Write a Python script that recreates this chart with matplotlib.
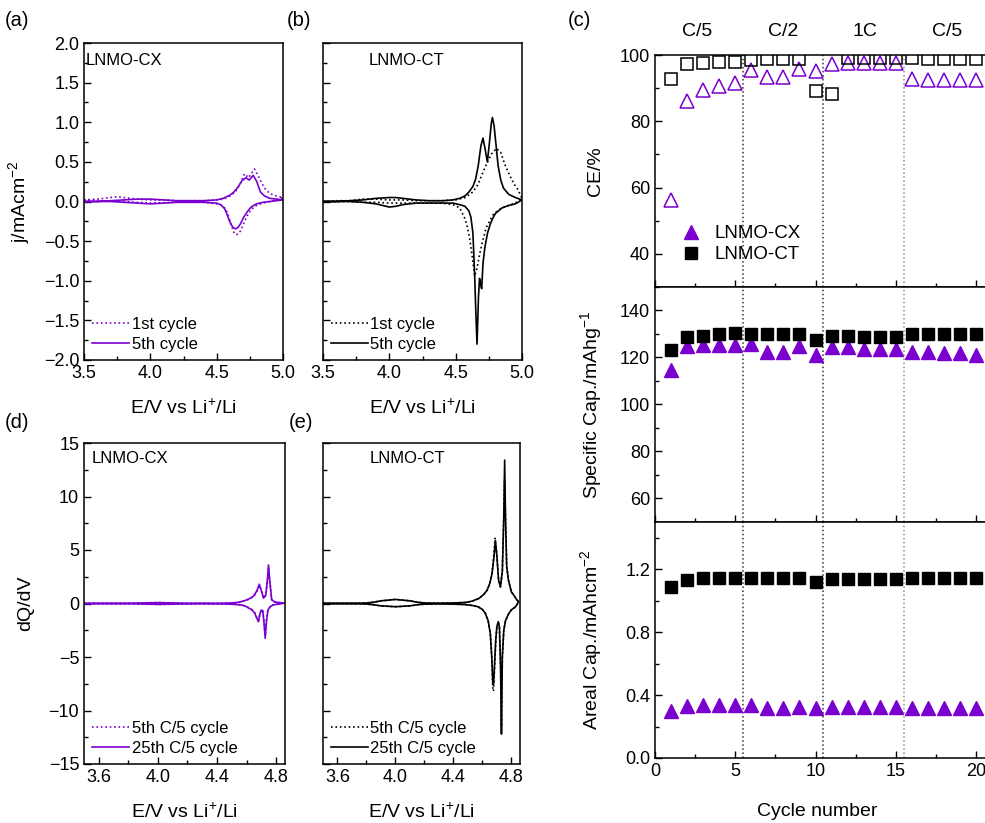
import matplotlib
matplotlib.use('Agg')
import matplotlib.pyplot as plt
from matplotlib.lines import Line2D
from matplotlib.ticker import MultipleLocator

plt.rcParams['font.family'] = ['Liberation Sans', 'DejaVu Sans']
plt.rcParams['mathtext.default'] = 'regular'

PURPLE = '#7a00d0'

# ---- CV data, panel (a) LNMO-CX ----
a5_up_E = [3.50, 3.60, 3.70, 3.80, 3.90, 4.00, 4.10, 4.20, 4.30, 4.40, 4.50, 4.55, 4.60, 4.63, 4.66,
           4.69, 4.72, 4.745, 4.775, 4.80, 4.83, 4.86, 4.90, 4.95, 5.00]
a5_up_j = [0.00, 0.00, 0.01, 0.02, 0.03, 0.03, 0.02, 0.01, 0.01, 0.01, 0.02, 0.04, 0.08, 0.12, 0.18,
           0.26, 0.30, 0.27, 0.33, 0.26, 0.12, 0.07, 0.04, 0.03, 0.02]
a5_dn_E = [5.00, 4.95, 4.90, 4.85, 4.80, 4.76, 4.73, 4.70, 4.68, 4.66, 4.64, 4.62, 4.60, 4.58, 4.56,
           4.53, 4.50, 4.40, 4.30, 4.20, 4.10, 4.00, 3.90, 3.80, 3.70, 3.60, 3.50]
a5_dn_j = [0.02, 0.01, 0.00, -0.01, -0.03, -0.07, -0.13, -0.21, -0.28, -0.33, -0.345, -0.32, -0.26, -0.17,
           -0.09, -0.04, -0.02, -0.01, -0.01, -0.01, -0.02, -0.03, -0.02, -0.01, 0.00, 0.00, 0.00]
a1_up_E = [3.50, 3.60, 3.70, 3.75, 3.80, 3.90, 4.00, 4.10, 4.20, 4.30, 4.40, 4.50, 4.55, 4.60, 4.64,
           4.67, 4.71, 4.74, 4.785, 4.82, 4.86, 4.90, 4.95, 5.00]
a1_up_j = [0.02, 0.03, 0.05, 0.06, 0.05, 0.03, 0.02, 0.02, 0.01, 0.01, 0.01, 0.02, 0.03, 0.07, 0.12,
           0.20, 0.35, 0.30, 0.41, 0.30, 0.17, 0.10, 0.07, 0.05]
a1_dn_E = [5.00, 4.95, 4.90, 4.85, 4.80, 4.76, 4.73, 4.70, 4.68, 4.66, 4.645, 4.63, 4.61, 4.59, 4.57,
           4.54, 4.50, 4.40, 4.20, 4.00, 3.80, 3.60, 3.50]
a1_dn_j = [0.05, 0.02, 0.00, -0.02, -0.05, -0.10, -0.18, -0.29, -0.37, -0.41, -0.42, -0.39, -0.30, -0.19,
           -0.10, -0.05, -0.03, -0.01, -0.01, -0.02, 0.00, 0.01, 0.02]

# ---- CV data, panel (b) LNMO-CT ----
b5_up_E = [3.50, 3.60, 3.70, 3.80, 3.90, 4.00, 4.05, 4.10, 4.20, 4.30, 4.40, 4.48, 4.53, 4.57, 4.60,
           4.63, 4.65, 4.67, 4.69, 4.706, 4.72, 4.739, 4.755, 4.768, 4.777, 4.79, 4.805, 4.82, 4.84,
           4.86, 4.90, 4.95, 5.00]
b5_up_j = [0.00, 0.00, 0.01, 0.02, 0.04, 0.05, 0.05, 0.04, 0.02, 0.01, 0.01, 0.02, 0.04, 0.07, 0.12,
           0.19, 0.28, 0.45, 0.70, 0.80, 0.68, 0.50, 0.75, 0.98, 1.06, 0.95, 0.70, 0.45, 0.27,
           0.17, 0.09, 0.05, 0.02]
b5_dn_E = [5.00, 4.95, 4.90, 4.85, 4.80, 4.78, 4.76, 4.74, 4.72, 4.706, 4.696, 4.688, 4.68, 4.672,
           4.661, 4.652, 4.643, 4.63, 4.615, 4.60, 4.57, 4.53, 4.48, 4.40, 4.30, 4.20, 4.10, 4.05,
           4.00, 3.95, 3.90, 3.80, 3.70, 3.60, 3.50]
b5_dn_j = [0.02, -0.03, -0.05, -0.08, -0.15, -0.21, -0.29, -0.40, -0.58, -0.78, -1.10, -1.05, -0.97,
           -1.20, -1.80, -1.40, -0.92, -0.40, -0.20, -0.12, -0.06, -0.04, -0.02, -0.02, -0.02, -0.02,
           -0.04, -0.06, -0.07, -0.05, -0.03, -0.01, 0.00, 0.00, 0.00]
b1_up_E = [3.50, 3.60, 3.70, 3.80, 3.85, 3.90, 4.00, 4.10, 4.20, 4.30, 4.40, 4.50, 4.57, 4.63, 4.67,
           4.706, 4.74, 4.77, 4.807, 4.84, 4.87, 4.907, 4.94, 4.97, 5.00]
b1_up_j = [0.00, 0.01, 0.01, 0.03, 0.03, 0.03, 0.02, 0.02, 0.01, 0.01, 0.01, 0.02, 0.05, 0.12, 0.22,
           0.37, 0.50, 0.60, 0.67, 0.62, 0.47, 0.33, 0.22, 0.15, 0.04]
b1_dn_E = [5.00, 4.95, 4.88, 4.82, 4.78, 4.73, 4.70, 4.68, 4.66, 4.643, 4.625, 4.605, 4.585, 4.568,
           4.53, 4.48, 4.40, 4.30, 4.20, 4.10, 4.00, 3.90, 3.80, 3.70, 3.60, 3.50]
b1_dn_j = [0.04, -0.02, -0.06, -0.11, -0.17, -0.33, -0.52, -0.67, -0.85, -0.94, -0.70, -0.46, -0.30,
           -0.21, -0.08, -0.04, -0.02, -0.02, -0.02, -0.02, -0.02, -0.01, -0.01, 0.00, 0.00, 0.00]

# ---- dQ/dV data, panel (d) LNMO-CX ----
d25_up_E = [3.50, 3.60, 3.70, 3.80, 3.90, 4.00, 4.10, 4.20, 4.30, 4.40, 4.50, 4.55, 4.59, 4.62, 4.648,
            4.67, 4.686, 4.70, 4.715, 4.73, 4.742, 4.748, 4.755, 4.77, 4.79, 4.82, 4.86]
d25_up_q = [0.00, 0.00, 0.00, 0.02, 0.05, 0.08, 0.05, 0.02, 0.01, 0.01, 0.05, 0.12, 0.28, 0.45, 0.70,
            1.20, 1.80, 1.20, 0.50, 0.80, 2.40, 3.60, 2.40, 0.35, 0.15, 0.08, 0.05]
d25_dn_E = [4.86, 4.82, 4.79, 4.77, 4.76, 4.745, 4.735, 4.726, 4.718, 4.71, 4.70, 4.69, 4.68, 4.67,
            4.655, 4.636, 4.60, 4.57, 4.52, 4.40, 4.30, 4.20, 4.10, 4.00, 3.90, 3.80, 3.70, 3.60, 3.50]
d25_dn_q = [0.05, -0.05, -0.10, -0.20, -0.30, -0.60, -1.60, -3.25, -1.80, -0.70, -0.60, -1.00, -1.70,
            -1.40, -0.90, -0.60, -0.30, -0.15, -0.08, -0.02, -0.01, -0.03, -0.06, -0.08, -0.05, -0.02,
            0.00, 0.00, 0.00]
d5_up_E = [3.50, 3.60, 3.70, 3.80, 3.90, 4.00, 4.10, 4.20, 4.30, 4.40, 4.50, 4.55, 4.59, 4.62, 4.648,
           4.67, 4.688, 4.70, 4.716, 4.73, 4.743, 4.749, 4.756, 4.77, 4.79, 4.82, 4.86]
d5_up_q = [0.00, 0.00, 0.01, 0.03, 0.06, 0.09, 0.06, 0.02, 0.01, 0.01, 0.05, 0.11, 0.26, 0.42, 0.66,
           1.10, 1.70, 1.15, 0.50, 0.75, 2.20, 3.40, 2.20, 0.35, 0.15, 0.08, 0.05]
d5_dn_E = [4.86, 4.82, 4.79, 4.77, 4.76, 4.745, 4.735, 4.727, 4.718, 4.71, 4.70, 4.69, 4.681, 4.67,
           4.655, 4.636, 4.60, 4.57, 4.52, 4.40, 4.30, 4.20, 4.10, 4.00, 3.90, 3.80, 3.70, 3.60, 3.50]
d5_dn_q = [0.05, -0.05, -0.10, -0.20, -0.30, -0.55, -1.50, -3.00, -1.70, -0.70, -0.60, -0.95, -1.60,
           -1.35, -0.85, -0.55, -0.30, -0.15, -0.08, -0.02, -0.01, -0.04, -0.07, -0.09, -0.06, -0.02,
           0.00, 0.00, 0.00]

# ---- dQ/dV data, panel (e) LNMO-CT ----
e25_up_E = [3.50, 3.60, 3.70, 3.80, 3.85, 3.90, 4.00, 4.10, 4.15, 4.20, 4.30, 4.40, 4.485, 4.53, 4.576,
            4.61, 4.633, 4.652, 4.667, 4.68, 4.69, 4.70, 4.712, 4.725, 4.738, 4.748, 4.754, 4.76, 4.768,
            4.78, 4.80, 4.816, 4.835, 4.85]
e25_up_q = [0.00, 0.00, 0.00, 0.05, 0.12, 0.25, 0.38, 0.25, 0.12, 0.05, 0.03, 0.05, 0.10, 0.22, 0.47,
            0.85, 1.25, 1.90, 2.80, 4.30, 5.90, 4.50, 2.20, 1.55, 3.00, 8.00, 13.40, 8.00, 3.50,
            2.20, 1.10, 0.80, 0.40, 0.15]
e25_dn_E = [4.85, 4.83, 4.80, 4.78, 4.76, 4.748, 4.738, 4.732, 4.726, 4.718, 4.71, 4.70, 4.692, 4.685,
            4.678, 4.673, 4.665, 4.655, 4.64, 4.62, 4.60, 4.57, 4.53, 4.48, 4.40, 4.30, 4.20, 4.15,
            4.10, 4.00, 3.90, 3.85, 3.80, 3.70, 3.60, 3.50]
e25_dn_q = [0.15, -0.30, -0.60, -1.00, -1.60, -2.50, -5.00, -12.20, -6.00, -2.20, -1.70, -2.20, -3.50,
            -5.50, -7.50, -7.60, -5.00, -2.80, -1.60, -0.90, -0.55, -0.30, -0.18, -0.10, -0.06, -0.04,
            -0.06, -0.12, -0.22, -0.30, -0.22, -0.12, -0.05, 0.00, 0.00, 0.00]
e5_up_E = [3.50, 3.60, 3.70, 3.80, 3.85, 3.90, 4.00, 4.10, 4.15, 4.20, 4.30, 4.40, 4.485, 4.53, 4.576,
           4.61, 4.633, 4.652, 4.667, 4.679, 4.688, 4.70, 4.712, 4.725, 4.738, 4.748, 4.753, 4.76, 4.768,
           4.78, 4.80, 4.816, 4.835, 4.85]
e5_up_q = [0.00, 0.00, 0.00, 0.05, 0.12, 0.25, 0.38, 0.25, 0.12, 0.05, 0.03, 0.05, 0.10, 0.22, 0.47,
           0.85, 1.25, 1.90, 2.90, 4.50, 6.10, 4.60, 2.20, 1.55, 3.10, 8.20, 11.50, 8.00, 3.50,
           2.20, 1.10, 0.80, 0.40, 0.15]
e5_dn_E = [4.85, 4.83, 4.80, 4.78, 4.76, 4.748, 4.738, 4.732, 4.726, 4.718, 4.71, 4.70, 4.692, 4.685,
           4.677, 4.672, 4.665, 4.655, 4.64, 4.62, 4.60, 4.57, 4.53, 4.48, 4.40, 4.30, 4.20, 4.15,
           4.10, 4.00, 3.90, 3.85, 3.80, 3.70, 3.60, 3.50]
e5_dn_q = [0.15, -0.30, -0.60, -1.00, -1.60, -2.50, -5.00, -11.50, -6.00, -2.20, -1.70, -2.30, -3.80,
           -6.00, -8.20, -7.90, -5.00, -2.80, -1.60, -0.90, -0.55, -0.30, -0.18, -0.10, -0.06, -0.04,
           -0.06, -0.12, -0.22, -0.30, -0.22, -0.12, -0.05, 0.00, 0.00, 0.00]

# ---- rate capability, panel (c) ----
cycles = list(range(1, 21))
ce_cx = [56.3, 86.2, 89.4, 90.6, 91.7, 95.5, 93.4, 93.4, 95.7, 95.3,
         97.3, 97.5, 97.5, 97.5, 97.5, 92.8, 92.6, 92.6, 92.6, 92.6]
ce_ct = [92.9, 97.2, 97.5, 97.8, 98.0, 98.5, 98.8, 98.8, 98.8, 89.2,
         88.2, 99.0, 99.0, 99.0, 99.0, 99.0, 98.7, 98.7, 98.7, 98.7]
spec_cx = [114.7, 124.8, 125.5, 125.5, 125.5, 125.8, 122.5, 122.5, 125.1, 121.2,
           124.4, 124.4, 123.7, 123.7, 123.7, 122.2, 122.2, 121.8, 121.8, 121.2]
spec_ct = [123.4, 128.9, 129.3, 129.8, 130.3, 129.8, 129.8, 129.8, 129.8, 127.5,
           129.3, 129.1, 128.9, 128.9, 128.9, 129.8, 129.8, 129.8, 129.8, 129.8]
areal_cx = [0.30, 0.33, 0.335, 0.335, 0.335, 0.335, 0.32, 0.32, 0.325, 0.315,
            0.325, 0.325, 0.325, 0.325, 0.325, 0.32, 0.32, 0.32, 0.32, 0.32]
areal_ct = [1.084, 1.13, 1.141, 1.141, 1.141, 1.141, 1.141, 1.141, 1.141, 1.12,
            1.137, 1.137, 1.137, 1.137, 1.137, 1.143, 1.143, 1.143, 1.143, 1.143]
rate_labels = ['C/5', 'C/2', '1C', 'C/5']
rate_label_x = [2.6, 8.0, 13.1, 18.2]
rate_breaks = [5.5, 10.45, 15.5]

W, H = 985, 823
TICK_FS = 13
LABEL_FS = 14
LEG_FS = 12

fig = plt.figure(figsize=(W / 100, H / 100), dpi=100)


def box(l, t, r, b):
    return [l / W, 1 - b / H, (r - l) / W, (b - t) / H]


def style(ax):
    ax.tick_params(which='both', direction='in', top=False, right=False, labelsize=TICK_FS, width=1)
    ax.tick_params(which='major', length=5)
    ax.tick_params(which='minor', length=3)
    for s in ax.spines.values():
        s.set_linewidth(1.1)


def loop(ax, upE, upY, dnE, dnY, color, ls, label):
    ax.plot(upE + dnE, upY + dnY, color=color, ls=ls, lw=1.2, label=label)


def small_legend(ax):
    ax.legend(loc='lower left', frameon=False, fontsize=LEG_FS, handlelength=2.2, handletextpad=0.15,
              labelspacing=0.3, borderaxespad=0.2, borderpad=0.3)


XLAB = 'E/V vs Li$^{+}$/Li'

# (a)
ax_a = fig.add_axes(box(84, 43, 283, 360))
loop(ax_a, a1_up_E, a1_up_j, a1_dn_E, a1_dn_j, PURPLE, ':', '1st cycle')
loop(ax_a, a5_up_E, a5_up_j, a5_dn_E, a5_dn_j, PURPLE, '-', '5th cycle')
ax_a.set_xlim(3.5, 5.0)
ax_a.set_ylim(-2.0, 2.0)
ax_a.xaxis.set_major_locator(MultipleLocator(0.5))
ax_a.xaxis.set_minor_locator(MultipleLocator(0.25))
ax_a.yaxis.set_major_locator(MultipleLocator(0.5))
ax_a.yaxis.set_minor_locator(MultipleLocator(0.25))
ax_a.set_ylabel('j/mAcm$^{-2}$', fontsize=LABEL_FS)
ax_a.yaxis.set_label_coords(-0.26, 0.5)
ax_a.set_xlabel(XLAB, fontsize=LABEL_FS)
ax_a.xaxis.set_label_coords(0.5, -0.12)
ax_a.text(0.01, 0.97, 'LNMO-CX', transform=ax_a.transAxes, fontsize=LEG_FS, va='top')
small_legend(ax_a)
style(ax_a)

# (b)
ax_b = fig.add_axes(box(323, 43, 522, 360))
loop(ax_b, b1_up_E, b1_up_j, b1_dn_E, b1_dn_j, 'k', ':', '1st cycle')
loop(ax_b, b5_up_E, b5_up_j, b5_dn_E, b5_dn_j, 'k', '-', '5th cycle')
ax_b.set_xlim(3.5, 5.0)
ax_b.set_ylim(-2.0, 2.0)
ax_b.xaxis.set_major_locator(MultipleLocator(0.5))
ax_b.xaxis.set_minor_locator(MultipleLocator(0.25))
ax_b.yaxis.set_major_locator(MultipleLocator(0.5))
ax_b.yaxis.set_minor_locator(MultipleLocator(0.25))
ax_b.tick_params(labelleft=False)
ax_b.set_xlabel(XLAB, fontsize=LABEL_FS)
ax_b.xaxis.set_label_coords(0.5, -0.12)
ax_b.text(0.42, 0.97, 'LNMO-CT', transform=ax_b.transAxes, fontsize=LEG_FS, va='top', ha='center')
small_legend(ax_b)
style(ax_b)

# (d)
ax_d = fig.add_axes(box(84, 443, 285, 764))
loop(ax_d, d5_up_E, d5_up_q, d5_dn_E, d5_dn_q, PURPLE, ':', '5th C/5 cycle')
loop(ax_d, d25_up_E, d25_up_q, d25_dn_E, d25_dn_q, PURPLE, '-', '25th C/5 cycle')
ax_d.set_xlim(3.5, 4.86)
ax_d.set_ylim(-15, 15)
ax_d.set_xticks([3.6, 4.0, 4.4, 4.8])
ax_d.xaxis.set_minor_locator(MultipleLocator(0.2))
ax_d.yaxis.set_major_locator(MultipleLocator(5))
ax_d.yaxis.set_minor_locator(MultipleLocator(2.5))
ax_d.set_ylabel('dQ/dV', fontsize=LABEL_FS)
ax_d.yaxis.set_label_coords(-0.25, 0.5)
ax_d.set_xlabel(XLAB, fontsize=LABEL_FS)
ax_d.xaxis.set_label_coords(0.5, -0.12)
ax_d.text(0.04, 0.975, 'LNMO-CX', transform=ax_d.transAxes, fontsize=LEG_FS, va='top')
small_legend(ax_d)
style(ax_d)

# (e)
ax_e = fig.add_axes(box(323, 443, 520, 764))
loop(ax_e, e5_up_E, e5_up_q, e5_dn_E, e5_dn_q, 'k', ':', '5th C/5 cycle')
loop(ax_e, e25_up_E, e25_up_q, e25_dn_E, e25_dn_q, 'k', '-', '25th C/5 cycle')
ax_e.set_xlim(3.5, 4.86)
ax_e.set_ylim(-15, 15)
ax_e.set_xticks([3.6, 4.0, 4.4, 4.8])
ax_e.xaxis.set_minor_locator(MultipleLocator(0.2))
ax_e.yaxis.set_major_locator(MultipleLocator(5))
ax_e.yaxis.set_minor_locator(MultipleLocator(2.5))
ax_e.tick_params(labelleft=False)
ax_e.set_xlabel(XLAB, fontsize=LABEL_FS)
ax_e.xaxis.set_label_coords(0.5, -0.12)
ax_e.text(0.43, 0.975, 'LNMO-CT', transform=ax_e.transAxes, fontsize=LEG_FS, va='top', ha='center')
small_legend(ax_e)
style(ax_e)

# (c) three stacked panels sharing cycle number
c_right = 655 + 21 * 16.05
ax_c1 = fig.add_axes(box(655, 55, c_right, 287))
ax_c2 = fig.add_axes(box(655, 287, c_right, 522))
ax_c3 = fig.add_axes(box(655, 522, c_right, 758))

ax_c1.plot(cycles, ce_cx, '^', ms=10, mfc='none', mec=PURPLE, mew=1.1)
ax_c1.plot(cycles, ce_ct, 's', ms=8, mfc='none', mec='k', mew=1.1)
ax_c1.set_ylim(30, 100)
ax_c1.set_yticks([40, 60, 80, 100])
ax_c1.yaxis.set_minor_locator(MultipleLocator(10))
ax_c1.set_ylabel('CE/%', fontsize=LABEL_FS)
handles = [Line2D([], [], marker='^', ls='none', color=PURPLE, ms=10),
           Line2D([], [], marker='s', ls='none', color='k', ms=8)]
ax_c1.legend(handles, ['LNMO-CX', 'LNMO-CT'], loc='lower left', bbox_to_anchor=(0.0, 0.03),
             frameon=False, fontsize=13.5, handletextpad=0.3, labelspacing=0.2)
for x, lab in zip(rate_label_x, rate_labels):
    ax_c1.text(x, 1.1, lab, transform=ax_c1.get_xaxis_transform(), ha='center', va='center',
               fontsize=LABEL_FS)

ax_c2.plot(cycles, spec_cx, '^', ms=10, color=PURPLE)
ax_c2.plot(cycles, spec_ct, 's', ms=8, color='k')
ax_c2.set_ylim(50, 150)
ax_c2.set_yticks([60, 80, 100, 120, 140])
ax_c2.yaxis.set_minor_locator(MultipleLocator(10))
ax_c2.set_ylabel('Specific Cap./mAhg$^{-1}$', fontsize=LABEL_FS)

ax_c3.plot(cycles, areal_cx, '^', ms=10, color=PURPLE)
ax_c3.plot(cycles, areal_ct, 's', ms=8, color='k')
ax_c3.set_ylim(0, 1.5)
ax_c3.set_yticks([0.0, 0.4, 0.8, 1.2])
ax_c3.yaxis.set_minor_locator(MultipleLocator(0.2))
ax_c3.set_ylabel('Areal Cap./mAhcm$^{-2}$', fontsize=LABEL_FS)
ax_c3.set_xlabel('Cycle number', fontsize=LABEL_FS)
ax_c3.xaxis.set_label_coords(0.48, -0.19)

for i, ax in enumerate([ax_c1, ax_c2, ax_c3]):
    ax.set_xlim(0, 21)
    ax.xaxis.set_major_locator(MultipleLocator(5))
    ax.xaxis.set_minor_locator(MultipleLocator(2.5))
    for k, xb in enumerate(rate_breaks):
        ax.axvline(xb, ls=':', lw=1.1, color='0.55' if k == 2 else '0.2', zorder=0)
    style(ax)
    if i < 2:
        ax.tick_params(labelbottom=False)
    ax.yaxis.set_label_coords(-0.15, 0.5)

# panel letters
for lab, x, y in [('(a)', 5, 20), ('(b)', 287, 20), ('(c)', 568, 20), ('(d)', 5, 423), ('(e)', 289, 423)]:
    fig.text(x / W, 1 - y / H, lab, fontsize=14.5, va='center', ha='left')

fig.savefig('out.png', dpi=100)
